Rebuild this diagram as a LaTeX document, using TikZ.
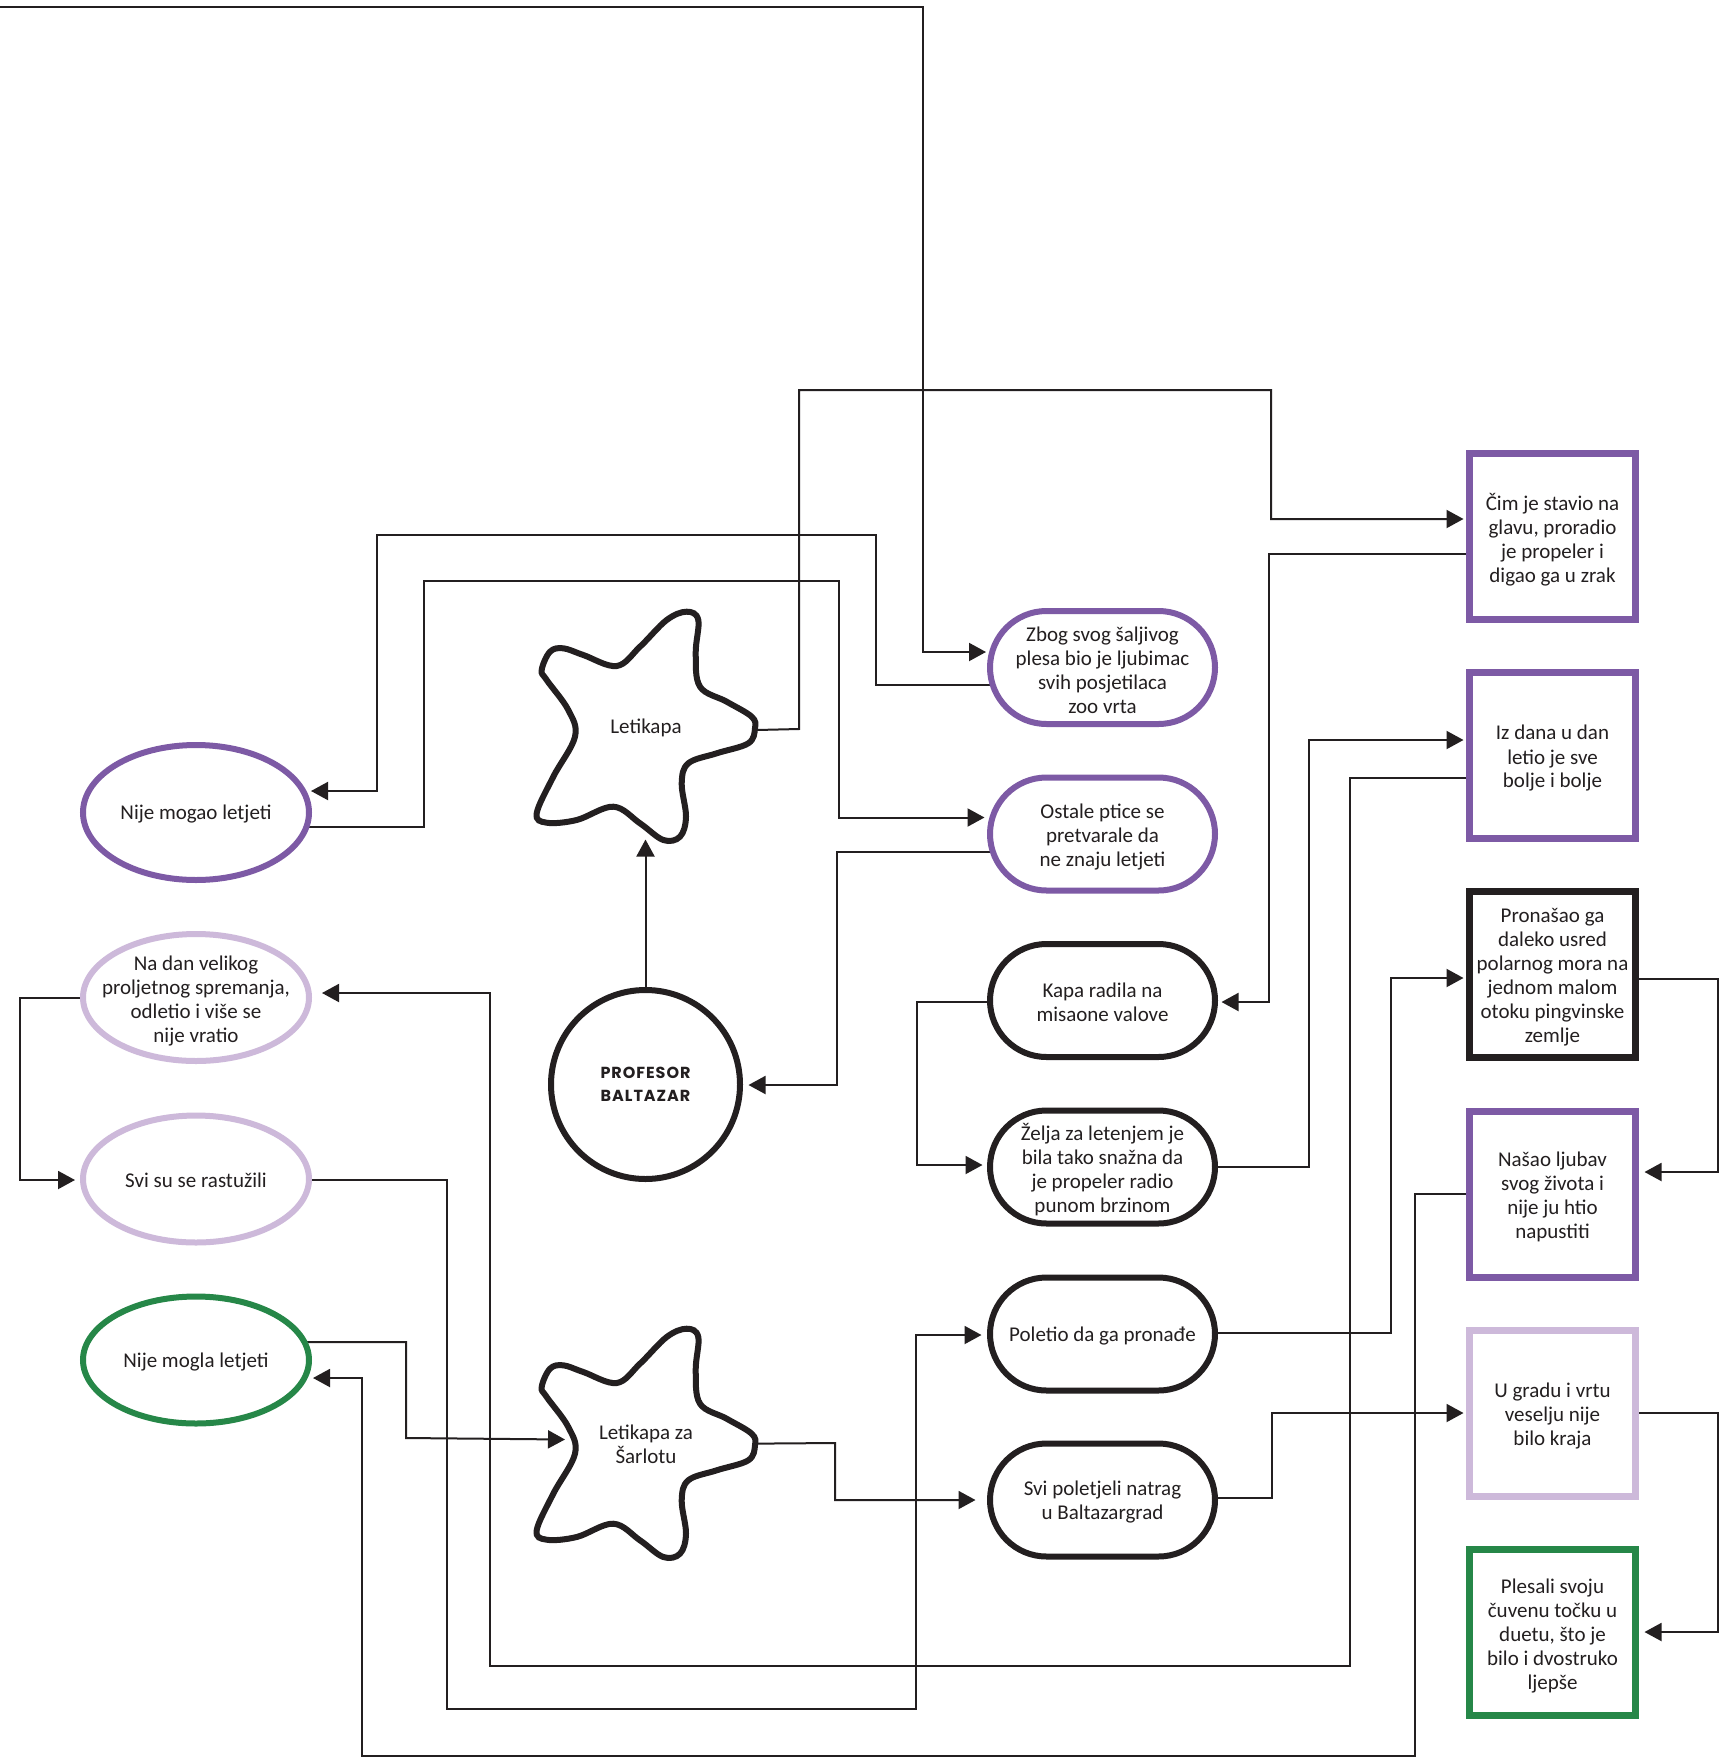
\documentclass[tikz,border=0pt]{standalone}
\usepackage{fontspec}
\setmainfont{Carlito}
\newfontfamily\proffont{Poppins}[LetterSpace=6]
\usetikzlibrary{shapes.geometric,arrows.meta,calc,backgrounds}
\definecolor{ink}{HTML}{231F20}
\definecolor{purp}{HTML}{7D5AA5}
\definecolor{lpurp}{HTML}{CDB9DA}
\definecolor{grn}{HTML}{268748}
\begin{document}
\begin{tikzpicture}[x=1pt,y=-1pt,
  txt/.style={text=ink, font=\fontsize{21}{24}\selectfont, align=center, inner sep=0pt},
  mtxt/.style={txt, yshift=-3pt},
  stxt/.style={txt, yshift=-1.5pt},
  oval/.style={ellipse, draw, fill=white, line width=6pt, inner sep=0pt, minimum width=226pt, minimum height=127pt},
  pill/.style={rectangle, draw, fill=white, line width=6pt, rounded corners=56.5pt, minimum width=225pt, minimum height=113pt},
  sbox/.style={rectangle, draw, fill=white, line width=7pt, minimum width=166pt, minimum height=166pt},
  conn/.style={draw=ink, line width=2pt},
  arr/.style={conn, -{Triangle[length=17pt,width=18pt]}},
  starline/.style={draw=ink, line width=6pt, fill=white},
  starfish/.pic={\path[starline] plot[smooth cycle, tension=0.6] coordinates {(-104.3,-56) (-96,-74.3) (-82.7,-77.7) (-62.7,-71) (-29.3,-60) (-6,-79.3) (20.7,-106) (40.7,-114.3) (52.3,-106) (49.7,-72.7) (54,-39.3) (80.7,-24.3) (105.7,-9.3) (109,2.3) (102.3,17.3) (70.7,27.3) (42.3,37.3) (35.7,57.3) (40,90.7) (34,110.7) (17.3,114) (-6,97.3) (-32.7,80.7) (-69.3,94) (-99.3,96.7) (-109.3,87.3) (-92.7,50.7) (-71,10.7) (-77.7,-16) (-99.3,-46)};}
]
\useasboundingbox (0,0) rectangle (1722,1758);

% left ellipses
\node[oval, draw=purp, minimum height=135pt] (e1) at (196,812.5) {};
\node[stxt] (e1t) at (e1) {Nije mogao letjeti};
\node[oval, draw=lpurp] (e2) at (196,997.5) {};
\node[mtxt] (e2t) at (e2) {Na dan velikog\\proljetnog spremanja,\\odletio i više se\\nije vratio};
\node[oval, draw=lpurp] (e3) at (196,1179) {};
\node[stxt] (e3t) at (e3) {Svi su se rastužili};
\node[oval, draw=grn] (e4) at (196,1360) {};
\node[stxt] (e4t) at (e4) {Nije mogla letjeti};

% centre
\node[circle, draw=ink, fill=white, line width=6pt, inner sep=0pt, minimum size=189pt] (prof) at (645.5,1084.5) {};
\node[txt, font={\proffont\bfseries\fontsize{16}{23.5}\selectfont}] (proft) at (prof) {PROFESOR\\BALTAZAR};

\pic at (646,726) {starfish};
\node[stxt] (star1) at (646,726) {Letikapa};
\pic at (646,1443) {starfish};
\node[stxt] (star2) at (646,1443) {Letikapa za\\Šarlotu};

% pills
\node[pill, draw=purp] (p1) at (1102.5,667.5) {};
\node[mtxt] (p1t) at (p1) {Zbog svog šaljivog\\plesa bio je ljubimac\\svih posjetilaca\\zoo vrta};
\node[pill, draw=purp] (p2) at (1102.5,834) {};
\node[mtxt] (p2t) at (p2) {Ostale ptice se\\pretvarale da\\ne znaju letjeti};
\node[pill, draw=ink] (p3) at (1102.5,1000.5) {};
\node[stxt] (p3t) at (p3) {Kapa radila na\\misaone valove};
\node[pill, draw=ink] (p4) at (1102.5,1167) {};
\node[mtxt] (p4t) at (p4) {Želja za letenjem je\\bila tako snažna da\\je propeler radio\\punom brzinom};
\node[pill, draw=ink] (p5) at (1102.5,1334) {};
\node[stxt] (p5t) at (p5) {Poletio da ga pronađe};
\node[pill, draw=ink] (p6) at (1102.5,1500) {};
\node[stxt] (p6t) at (p6) {Svi poletjeli natrag\\u Baltazargrad};

% boxes
\node[sbox, draw=purp] (b1) at (1552.5,536.5) {};
\node[mtxt] (b1t) at (b1) {Čim je stavio na\\glavu, proradio\\je propeler i\\digao ga u zrak};
\node[sbox, draw=purp] (b2) at (1552.5,755.5) {};
\node[mtxt] (b2t) at (b2) {Iz dana u dan\\letio je sve\\bolje i bolje};
\node[sbox, draw=ink] (b3) at (1552.5,974.5) {};
\node[mtxt] (b3t) at (b3) {Pronašao ga\\daleko usred\\polarnog mora na\\jednom malom\\otoku pingvinske\\zemlje};
\node[sbox, draw=purp] (b4) at (1552.5,1194) {};
\node[mtxt] (b4t) at (b4) {Našao ljubav\\svog života i\\nije ju htio\\napustiti};
\node[sbox, draw=lpurp] (b5) at (1552.5,1413) {};
\node[mtxt] (b5t) at (b5) {U gradu i vrtu\\veselju nije\\bilo kraja};
\node[sbox, draw=grn] (b6) at (1552.5,1632.5) {};
\node[mtxt] (b6t) at (b6) {Plesali svoju\\čuvenu točku u\\duetu, što je\\bilo i dvostruko\\ljepše};

\coordinate (topstart) at (0,7);

\begin{pgfonlayer}{background}
\fill[white] (0,0) rectangle (1722,1758);
\draw[arr] (topstart) -- (923,7) -- (923,652) -- ($(p1)+(-116.5,-15.5)$);
\draw[arr] ($(star1)+(90,3)$) -- (799,729) -- (799,390) -- (1271,390) -- (1271,519) -- ($(b1)+(-89,-17.5)$);
\draw[arr] ($(p1)+(0,17.5)$) -- (876,685) -- (876,535) -- (377,535) -- (377,791) -- ($(e1)+(115,-21.5)$);
\draw[arr] ($(e1)+(0,14.5)$) -- (424,827) -- (424,581) -- (839,581) -- (839,817.5) -- ($(p2)+(-118,-16.5)$);
\draw[arr] ($(p2)+(0,18)$) -- (837,852) -- (837,1085) -- ($(prof)+(103,0.5)$);
\draw[arr] (prof) -- ($(star1)+(-0.5,112)$);
\draw[arr] ($(b1)+(0,17.5)$) -- (1269,554) -- (1269,1002) -- ($(p3)+(119,1.5)$);
\draw[arr] ($(p3)+(0,1.5)$) -- (917,1002) -- (917,1165) -- ($(p4)+(-120,-2)$);
\draw[arr] (p4) -- (1309,1167) -- (1309,740) -- ($(b2)+(-89,-15.5)$);
\draw[arr] ($(b2)+(0,22.5)$) -- (1350,778) -- (1350,1666) -- (490,1666) -- (490,993) -- ($(e2)+(126,-4.5)$);
\draw[arr] (e2) -- (20,997.5) -- (20,1180) -- ($(e3)+(-121,1)$);
\draw[arr] ($(e3)+(0,1)$) -- (447,1180) -- (447,1709) -- (916,1709) -- (916,1335) -- ($(p5)+(-121,1)$);
\draw[arr] ($(p5)+(0,-1)$) -- (1391,1333) -- (1391,978) -- ($(b3)+(-89,3.5)$);
\draw[arr] ($(b3)+(0,4.5)$) -- (1718,979) -- (1718,1172) -- ($(b4)+(92,-22)$);
\draw[arr] (b4) -- (1415,1194) -- (1415,1756) -- (362,1756) -- (362,1378) -- ($(e4)+(117,18)$);
\draw[arr] ($(e4)+(0,-18)$) -- (406,1342) -- (406,1438) -- ($(star2)+(-81,-5)$);
\draw[arr] (star2) -- (835,1443) -- (835,1500) -- ($(p6)+(-127,0)$);
\draw[arr] ($(p6)+(0,-2)$) -- (1272,1498) -- (1272,1413) -- ($(b5)+(-89,0)$);
\draw[arr] (b5) -- (1718,1413) -- (1718,1632) -- ($(b6)+(92,-0.5)$);
\end{pgfonlayer}
\end{tikzpicture}
\end{document}
